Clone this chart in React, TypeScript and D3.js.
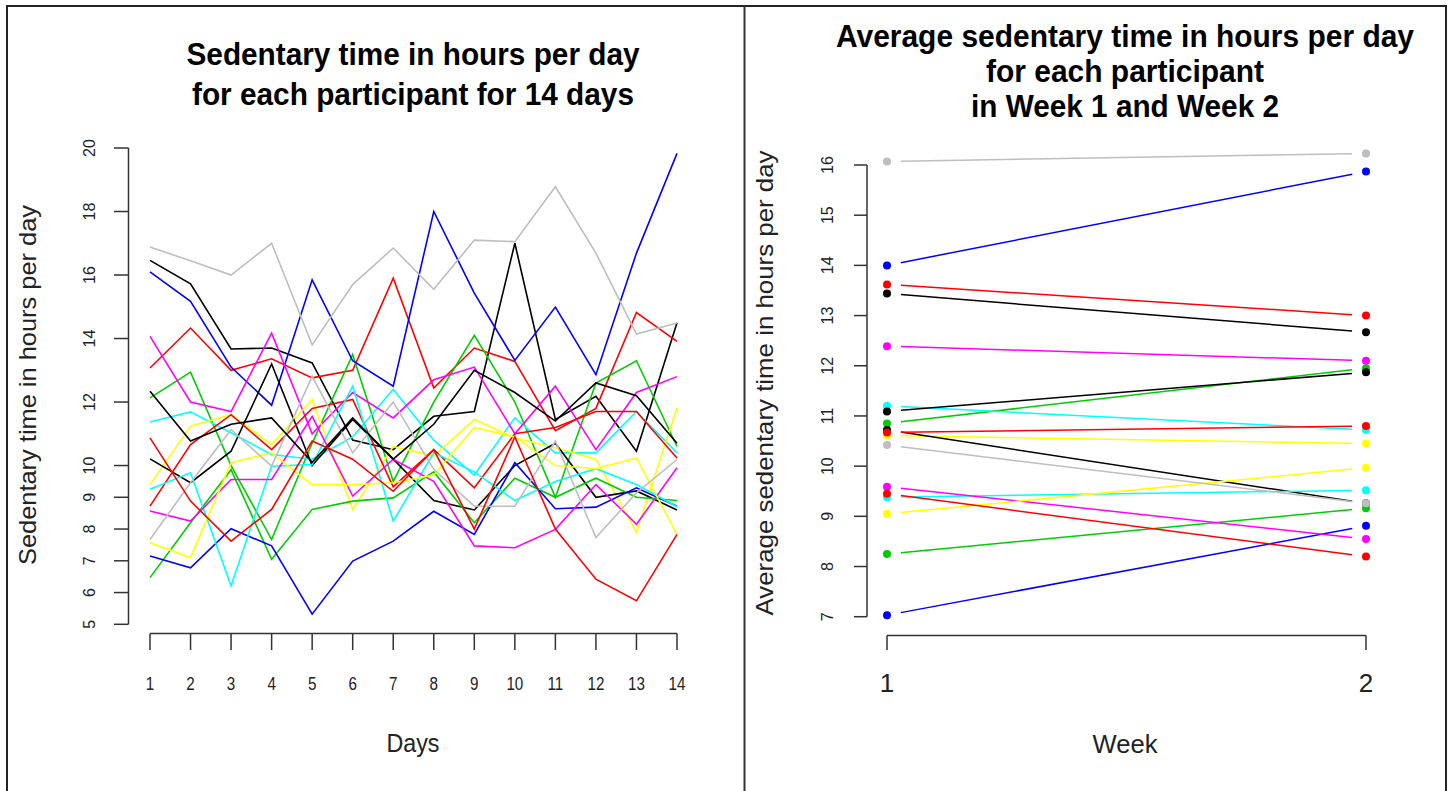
import React from "react";
import * as d3 from "d3";

const days = [1, 2, 3, 4, 5, 6, 7, 8, 9, 10, 11, 12, 13, 14];

// daily sedentary hours, one array per participant (days 1..14)
const p0 = [16.46, 15.72, 13.67, 13.7, 13.23, 10.8, 10.5, 11.55, 11.7, 17.0, 11.45, 12.18, 10.45, 14.5];
const p1 = [13.07, 14.33, 13.0, 13.36, 12.76, 13.0, 15.9, 12.44, 13.7, 13.28, 11.1, 11.8, 14.82, 13.91];
const p2 = [12.13, 12.94, 10.0, 7.67, 10.7, 13.5, 9.5, 12.0, 14.1, 12.0, 9.0, 12.6, 13.3, 10.6];
const p3 = [16.1, 15.17, 13.1, 11.9, 15.85, 13.3, 12.5, 18.0, 15.43, 13.31, 14.99, 12.86, 16.69, 19.83];
const p4 = [11.37, 11.69, 11.03, 10.35, 10.2, 10.9, 12.4, 10.8, 9.7, 11.5, 10.4, 10.4, 11.7, 10.4];
const p5 = [14.07, 12.0, 11.7, 14.17, 11.0, 12.3, 11.5, 12.7, 13.1, 11.0, 12.5, 10.5, 12.3, 12.8];
const p6 = [9.4, 11.24, 11.6, 10.66, 12.08, 8.62, 10.6, 10.3, 11.45, 10.87, 10.56, 10.2, 7.9, 11.81];
const p7 = [16.88, 16.45, 16.0, 17.0, 13.8, 15.7, 16.85, 15.55, 17.1, 17.05, 18.78, 16.69, 14.14, 14.49];
const p8 = [10.21, 9.46, 10.45, 13.2, 10.0, 11.45, 10.2, 8.9, 8.6, 10.0, 10.7, 9.0, 9.2, 8.6];
const p9 = [8.72, 10.66, 11.6, 10.5, 11.8, 12.08, 9.33, 10.5, 9.3, 11.0, 11.2, 11.7, 11.7, 10.24];
const p10 = [6.47, 8.2, 9.87, 7.05, 8.62, 8.88, 8.98, 9.8, 8.2, 9.6, 9.0, 9.6, 9.0, 8.9];
const p11 = [7.15, 6.78, 8.01, 7.47, 5.32, 6.99, 7.62, 8.56, 7.83, 10.09, 8.64, 8.69, 9.3, 8.72];
const p12 = [9.25, 9.77, 6.21, 9.98, 10.03, 12.5, 8.25, 10.4, 9.8, 8.9, 9.5, 9.9, 9.4, 8.7];
const p13 = [8.57, 8.25, 9.56, 9.56, 11.55, 9.04, 10.2, 9.5, 7.47, 7.41, 7.99, 9.4, 8.15, 9.93];
const p14 = [7.57, 7.1, 10.09, 10.4, 9.4, 9.4, 9.46, 9.7, 11.2, 10.9, 10.0, 9.9, 10.24, 7.83];
const p15 = [7.67, 9.46, 11.13, 9.98, 12.81, 10.4, 12.0, 9.88, 8.72, 8.72, 10.77, 7.73, 9.14, 10.19];
const p16 = [12.34, 10.77, 11.3, 11.5, 10.1, 11.5, 10.2, 11.3, 13.0, 12.3, 11.4, 12.6, 12.2, 10.7];
const p17 = [10.87, 8.88, 7.62, 8.62, 10.77, 10.2, 9.19, 10.5, 8.0, 10.9, 8.0, 6.42, 5.74, 7.83];
const dailyHours = [p0, p1, p2, p3, p4, p5, p6, p7, p8, p9, p10, p11, p12, p13, p14, p15, p16, p17];

// weekly averages per participant
const weeks = [1, 2];
const week1Avg = [13.44, 13.62, 10.85, 14.0, 11.2, 12.39, 10.61, 16.07, 10.72, 10.67, 8.25, 7.03, 9.38, 9.59, 9.05, 10.42, 11.09, 9.45];
const week2Avg = [12.67, 13.0, 11.95, 15.87, 10.72, 12.1, 10.45, 16.23, 9.26, 10.8, 9.16, 8.81, 9.52, 8.55, 9.97, 9.26, 11.87, 8.2];

const leftYTicks = [5, 6, 7, 8, 9, 10, 12, 14, 16, 18, 20];
const rightYTicks = [7, 8, 9, 10, 11, 12, 13, 14, 15, 16];

const palette = ["#000000", "#FF0000", "#00CD00", "#0000FF", "#00FFFF", "#FF00FF", "#FFFF00", "#BEBEBE"];

const FONT = "'Liberation Sans', Arial, sans-serif";
const AX = "#333";

export default function App() {
  const xL = d3.scaleLinear().domain([1, 14]).range([150, 677]);
  const yL = d3.scaleLinear().domain([5, 20]).range([624.3, 148]);
  const xR = d3.scaleLinear().domain([1, 2]).range([887, 1366]);
  const yR = d3.scaleLinear().domain([7, 16]).range([616.7, 165]);

  const lineL = d3
    .line<number>()
    .x((_, i) => xL(days[i]))
    .y((v) => yL(v));

  const gap = 14;

  return (
    <div style={{ position: "absolute", left: 0, top: 0 }}>
      <svg width={1448} height={791} style={{ display: "block", background: "#fff" }} fontFamily={FONT}>
        <rect x={0} y={0} width={1448} height={791} fill="#fff" />
        {/* frame */}
        <path d="M7,791 V6 H1446 V791" fill="none" stroke="#222" strokeWidth={2} />
        <line x1={744.5} y1={6} x2={744.5} y2={791} stroke="#333" strokeWidth={2} />

        {/* LEFT PANEL */}
        <text x={413} y={65} textAnchor="middle" fontWeight="bold" fontSize={31} textLength={453} lengthAdjust="spacingAndGlyphs">
          Sedentary time in hours per day
        </text>
        <text x={413} y={105} textAnchor="middle" fontWeight="bold" fontSize={31} textLength={442} lengthAdjust="spacingAndGlyphs">
          for each participant for 14 days
        </text>

        {/* left y axis */}
        <line x1={128.5} x2={128.5} y1={yL(5)} y2={yL(20)} stroke={AX} strokeWidth={1.5} />
        {leftYTicks.map((t) => (
          <g key={"ly" + t}>
            <line x1={114} x2={128.5} y1={yL(t)} y2={yL(t)} stroke={AX} strokeWidth={1.5} />
            <text
              transform={`translate(95,${yL(t)}) rotate(-90)`}
              textAnchor="middle"
              fontSize={16}
              fill="#222"
            >
              {t}
            </text>
          </g>
        ))}

        {/* left x axis */}
        <line x1={xL(1)} x2={xL(14)} y1={633.5} y2={633.5} stroke={AX} strokeWidth={1.5} />
        {days.map((d) => (
          <g key={"lx" + d}>
            <line x1={xL(d)} x2={xL(d)} y1={633.5} y2={650} stroke={AX} strokeWidth={1.5} />
            <text
              x={0}
              y={0}
              textAnchor="middle"
              fontSize={19}
              fill="#222"
              transform={`translate(${xL(d)},690) scale(0.8,1)`}
            >
              {d}
            </text>
          </g>
        ))}

        <text x={413} y={752} textAnchor="middle" fontSize={26} textLength={53} lengthAdjust="spacingAndGlyphs" fill="#222">
          Days
        </text>
        <text
          transform="translate(36,385) rotate(-90)"
          textAnchor="middle"
          fontSize={24}
          textLength={360}
          lengthAdjust="spacingAndGlyphs"
          fill="#222"
        >
          Sedentary time in hours per day
        </text>

        {/* participant lines */}
        {dailyHours.map((vals, i) => (
          <path key={"pl" + i} d={lineL(vals) || ""} fill="none" stroke={palette[i % 8]} strokeWidth={1.6} strokeLinejoin="miter" />
        ))}

        {/* RIGHT PANEL */}
        <text x={1125} y={47} textAnchor="middle" fontWeight="bold" fontSize={31} textLength={578} lengthAdjust="spacingAndGlyphs">
          Average sedentary time in hours per day
        </text>
        <text x={1125} y={82} textAnchor="middle" fontWeight="bold" fontSize={31} textLength={278} lengthAdjust="spacingAndGlyphs">
          for each participant
        </text>
        <text x={1125} y={117} textAnchor="middle" fontWeight="bold" fontSize={31} textLength={308} lengthAdjust="spacingAndGlyphs">
          in Week 1 and Week 2
        </text>

        {/* right y axis */}
        <line x1={867} x2={867} y1={yR(7)} y2={yR(16)} stroke={AX} strokeWidth={1.5} />
        {rightYTicks.map((t) => (
          <g key={"ry" + t}>
            <line x1={854} x2={867} y1={yR(t)} y2={yR(t)} stroke={AX} strokeWidth={1.5} />
            <text transform={`translate(833,${yR(t)}) rotate(-90)`} textAnchor="middle" fontSize={16} fill="#222">
              {t}
            </text>
          </g>
        ))}

        {/* right x axis */}
        <line x1={xR(1)} x2={xR(2)} y1={635.5} y2={635.5} stroke={AX} strokeWidth={1.5} />
        {weeks.map((w) => (
          <g key={"rx" + w}>
            <line x1={xR(w)} x2={xR(w)} y1={635.5} y2={650} stroke={AX} strokeWidth={1.5} />
            <text x={xR(w)} y={692} textAnchor="middle" fontSize={26} fill="#222">
              {w}
            </text>
          </g>
        ))}

        <text x={1125} y={753} textAnchor="middle" fontSize={26} textLength={65} lengthAdjust="spacingAndGlyphs" fill="#222">
          Week
        </text>
        <text
          transform="translate(773,383) rotate(-90)"
          textAnchor="middle"
          fontSize={24}
          textLength={465}
          lengthAdjust="spacingAndGlyphs"
          fill="#222"
        >
          Average sedentary time in hours per day
        </text>

        {week1Avg.map((a, i) => {
          const b = week2Avg[i];
          const x1 = xR(1), y1 = yR(a), x2 = xR(2), y2 = yR(b);
          const len = Math.hypot(x2 - x1, y2 - y1);
          const ux = (x2 - x1) / len, uy = (y2 - y1) / len;
          const c = palette[i % 8];
          return (
            <g key={"wk" + i}>
              <line x1={x1 + ux * gap} y1={y1 + uy * gap} x2={x2 - ux * gap} y2={y2 - uy * gap} stroke={c} strokeWidth={1.5} />
              <circle cx={x1} cy={y1} r={4} fill={c} />
              <circle cx={x2} cy={y2} r={4} fill={c} />
            </g>
          );
        })}
      </svg>
    </div>
  );
}
